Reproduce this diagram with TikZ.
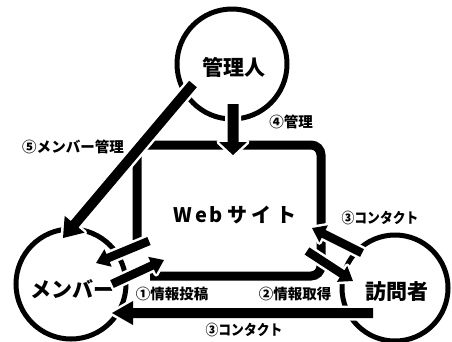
\documentclass[tikz,border=0pt]{standalone}
\usepackage{fontspec}
\setmainfont{Noto Sans CJK JP}
\usetikzlibrary{calc}

% fat arrow: #1 tail coordinate, #2 tip coordinate, #3 half shaft, #4 half head, #5 head length
\newcommand\fatarrow[5]{%
  \path let \p1=(#1), \p2=(#2) in \pgfextra{%
    \pgfmathparse{atan2(\y2-\y1,\x2-\x1)}\xdef\faang{\pgfmathresult}%
    \pgfmathparse{veclen(\x2-\x1,\y2-\y1)}\xdef\falen{\pgfmathresult}%
    \xdef\fax{\x1}\xdef\fay{\y1}};
  \filldraw[arrborder, shift={(\fax,\fay)}, rotate=\faang]
    (0pt,#3) -- ({\falen pt-#5},#3) -- ({\falen pt-#5},#4) -- (\falen pt,0pt)
    -- ({\falen pt-#5},-#4) -- ({\falen pt-#5},-#3) -- (0pt,-#3) -- cycle;
  \fill[arrfill, shift={(\fax,\fay)}, rotate=\faang]
    (0pt,#3) -- ({\falen pt-#5},#3) -- ({\falen pt-#5},#4) -- (\falen pt,0pt)
    -- ({\falen pt-#5},-#4) -- ({\falen pt-#5},-#3) -- (0pt,-#3) -- cycle;
}

\begin{document}
\begin{tikzpicture}[x=1bp,y=-1bp,
  ring/.style={circle, draw=black, line width=5bp, inner sep=0pt},
  bigtext/.style={font=\bfseries\fontsize{21bp}{21bp}\selectfont, inner sep=0pt},
  lbl/.style={font=\bfseries\fontsize{14.5bp}{14.5bp}\selectfont, inner sep=0pt},
  frame/.style={draw=black, line width=9bp, rounded corners=10bp},
  arrborder/.style={fill=white, draw=white, line width=5bp, line join=round},
  arrfill/.style={fill=black}]
\useasboundingbox[fill=white] (0,0) rectangle (452,341);

% website frame
\draw[frame] (137,240) -- (137,145) -- (321,145) -- (321,276) -- (150,276);
\node[font=\bfseries\fontsize{20bp}{20bp}\selectfont, inner sep=0pt] (site) at (235,214.5)
  {W\kern2.5bp e\kern2.5bp b\kern4.5bp サ\kern4.5bp イ\kern4.5bp ト};

% actors
\node[ring, minimum size=110bp] (admin) at (232,64) {};
\node[ring, minimum size=110bp] (member) at (71,284) {};
\node[ring, minimum size=106bp] (visitor) at (395,288) {};
\node[bigtext] (admintext) at (234,67) {管理人};
\node[bigtext] (membertext) at (72,289) {メンバー};
\node[bigtext] (visitortext) at (397,292) {訪問者};

% arrow end points
\coordinate (a4s) at (233,104);  \coordinate (a4e) at (233,155);
\coordinate (a5s) at (193,84);   \coordinate (a5e) at (63,238);
\coordinate (b3s) at (373,313);  \coordinate (b3e) at (112,313);
\coordinate (m1s) at (149,241);  \coordinate (m1e) at (96,263);
\coordinate (m2s) at (112,284);  \coordinate (m2e) at (164,260);
\coordinate (v1s) at (362,253);  \coordinate (v1e) at (312,228);
\coordinate (v2s) at (307,251);  \coordinate (v2e) at (353,281);

\fatarrow{a4s}{a4e}{5.5bp}{14bp}{13bp}
\fatarrow{a5s}{a5e}{5bp}{13bp}{18bp}
\fatarrow{b3s}{b3e}{5bp}{12bp}{21bp}
\fatarrow{m1s}{m1e}{4.3bp}{9.5bp}{13bp}
\fatarrow{m2s}{m2e}{4.3bp}{9.5bp}{13bp}
\fatarrow{v1s}{v1e}{4.3bp}{9.5bp}{13bp}
\fatarrow{v2s}{v2e}{4.3bp}{9.5bp}{13bp}

% labels
\node[lbl] (l4) at (291,122) {④管理};
\node[lbl] (l5) at (73,147) {⑤メンバー管理};
\node[lbl] (l1) at (172,294) {①情報投稿};
\node[lbl] (l2) at (295,294) {②情報取得};
\node[lbl] (l3a) at (380,218) {\scalebox{0.88}[1]{③コンタクト}};
\node[lbl] (l3b) at (244,330) {\scalebox{0.88}[1]{③コンタクト}};
\end{tikzpicture}
\end{document}
